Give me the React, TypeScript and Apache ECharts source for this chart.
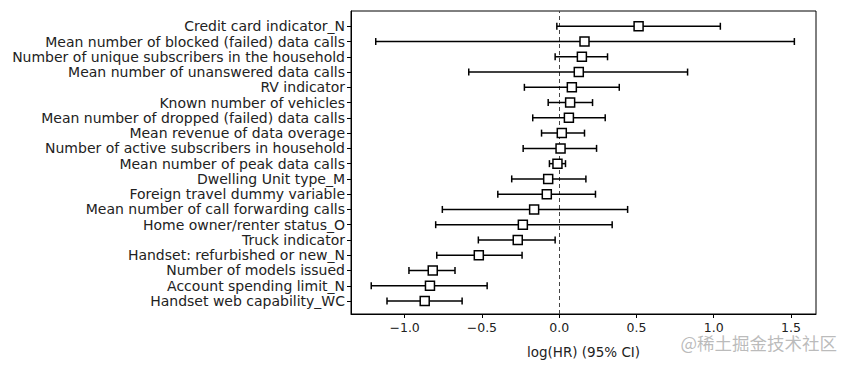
import React, { useEffect, useRef } from "react";
import * as echarts from "echarts";

const labels = [
  "Credit card indicator_N",
  "Mean number of blocked (failed) data calls",
  "Number of unique subscribers in the household",
  "Mean number of unanswered data calls",
  "RV indicator",
  "Known number of vehicles",
  "Mean number of dropped (failed) data calls",
  "Mean revenue of data overage",
  "Number of active subscribers in household",
  "Mean number of peak data calls",
  "Dwelling Unit type_M",
  "Foreign travel dummy variable",
  "Mean number of call forwarding calls",
  "Home owner/renter status_O",
  "Truck indicator",
  "Handset: refurbished or new_N",
  "Number of models issued",
  "Account spending limit_N",
  "Handset web capability_WC",
];
const coefs = [0.514, 0.164, 0.147, 0.127, 0.082, 0.071, 0.063, 0.017, 0.009, -0.011, -0.071, -0.08, -0.162, -0.235, -0.268, -0.52, -0.818, -0.836, -0.87];
const lowers = [-0.015, -1.187, -0.026, -0.585, -0.225, -0.071, -0.171, -0.114, -0.233, -0.063, -0.307, -0.397, -0.756, -0.799, -0.523, -0.792, -0.972, -1.216, -1.114];
const uppers = [1.043, 1.522, 0.313, 0.831, 0.389, 0.216, 0.298, 0.164, 0.242, 0.041, 0.173, 0.235, 0.443, 0.343, -0.026, -0.24, -0.674, -0.466, -0.628];
const xTicks = [-1.0, -0.5, 0.0, 0.5, 1.0, 1.5];

export default function App() {
  const ref = useRef<HTMLDivElement>(null);
  useEffect(() => {
    if (!ref.current) return;
    const chart = echarts.init(ref.current, null, { renderer: "svg" });
    const n = labels.length;
    const rowIdx = labels.map((_, i) => n - 1 - i);
    const font = "DejaVu Sans";
    chart.setOption({
      animation: false,
      textStyle: { fontFamily: font },
      grid: {
        left: 351,
        right: 39,
        top: 11,
        bottom: 54,
        show: true,
        borderColor: "#000",
        borderWidth: 1,
        backgroundColor: "transparent",
      },
      xAxis: {
        type: "value",
        min: -1.347,
        max: 1.662,
        name: "log(HR) (95% CI)",
        nameLocation: "middle",
        nameGap: 31,
        nameTextStyle: { fontFamily: font, fontSize: 13.5, color: "#222" },
        axisLine: { show: true, onZero: false, lineStyle: { color: "#000", width: 1 } },
        axisTick: { show: true, length: 4, customValues: xTicks, lineStyle: { color: "#000" } },
        axisLabel: {
          customValues: xTicks,
          fontFamily: font,
          fontSize: 12.5,
          color: "#222",
          margin: 7,
          formatter: (v: number) => v.toFixed(1).replace("-", "\u2212"),
        },
        splitLine: { show: false },
      },
      yAxis: {
        type: "value",
        min: -0.85,
        max: 19.0,
        axisLine: { show: true, onZero: false, lineStyle: { color: "#000", width: 1 } },
        axisTick: { show: true, length: 4, customValues: rowIdx, lineStyle: { color: "#000" } },
        axisLabel: {
          customValues: rowIdx,
          fontFamily: font,
          fontSize: 14,
          color: "#222",
          margin: 6,
          formatter: (v: number) => {
            const i = n - 1 - Math.round(v);
            return labels[i] ?? "";
          },
        },
        splitLine: { show: false },
      },
      graphic: [
        {
          type: "text",
          right: 18,
          top: 334,
          style: {
            text: "@稀土掘金技术社区",
            fontFamily: "Noto Sans CJK SC",
            fontSize: 17.5,
            fill: "rgba(165,165,165,0.75)",
          },
          z: 100,
        },
      ],
      series: [
        {
          type: "custom",
          data: labels.map((_, i) => [lowers[i], uppers[i], rowIdx[i]]),
          encode: { x: [0, 1], y: 2 },
          renderItem: (params: any, api: any) => {
            const lo = api.coord([api.value(0), api.value(2)]);
            const hi = api.coord([api.value(1), api.value(2)]);
            const h = 3.5;
            const st = { stroke: "#000", lineWidth: 1.5 };
            return {
              type: "group",
              children: [
                { type: "line", shape: { x1: lo[0], y1: lo[1], x2: hi[0], y2: hi[1] }, style: st },
                { type: "line", shape: { x1: lo[0], y1: lo[1] - h, x2: lo[0], y2: lo[1] + h }, style: st },
                { type: "line", shape: { x1: hi[0], y1: hi[1] - h, x2: hi[0], y2: hi[1] + h }, style: st },
              ],
            };
          },
          z: 2,
        },
        {
          type: "scatter",
          data: labels.map((_, i) => [coefs[i], rowIdx[i]]),
          symbol: "rect",
          symbolSize: 9,
          itemStyle: { color: "#fff", borderColor: "#000", borderWidth: 1.5, opacity: 1 },
          z: 3,
          markLine: {
            silent: true,
            symbol: "none",
            label: { show: false },
            lineStyle: { type: [4, 3], color: "#444", width: 1 },
            data: [{ xAxis: 0 }],
            z: 1,
          },
        },
      ],
    });
    return () => chart.dispose();
  }, []);
  return (
    <div
      ref={ref}
      style={{ position: "fixed", left: 0, top: 0, width: 855, height: 368, background: "#fff" }}
    />
  );
}
